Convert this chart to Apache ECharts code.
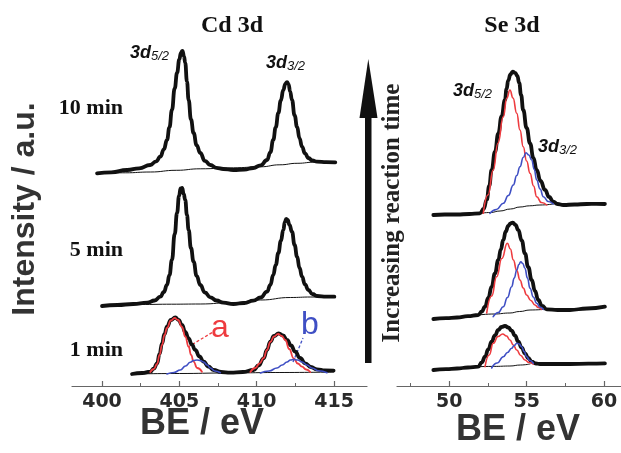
<!DOCTYPE html>
<html>
<head>
<meta charset="utf-8">
<script src="https://cdn.jsdelivr.net/npm/echarts@6/dist/echarts.min.js"></script>
<style>html,body{margin:0;padding:0;background:#fff}#c{width:621px;height:453px}</style>
</head>
<body>
<div id="c"></div>
<script>
// ---------- DATA (BE in eV, intensity in arbitrary units above each spectrum's own start) ----------
const cdTicks = [400, 405, 410, 415];
const cdMinor = [402.5, 407.5, 412.5];
const seTicks = [50, 55, 60];
const seMinor = [47.5, 52.5, 57.5];
const timeLabels = ['1 min', '5 min', '10 min'];
const cdOffsets = [12, 80, 212.7];   // vertical stacking offsets (1, 5, 10 min)
const seOffsets = [16, 67, 171];

// Cd 3d, 10 min
const cd10 = [[399.68,0],[400.6,1],[401.62,3.3],[402.4,5],[403.12,8.3],[403.5,12],[403.77,16.6],[404.0,24],[404.20,33.3],[404.36,46],[404.52,63.3],[404.70,85],[404.85,100.3],[405.0,114],[405.10,120.5],[405.20,122.5],[405.30,117],[405.38,110.3],[405.49,92],[405.60,73.3],[405.75,54],[405.92,40.3],[406.12,28],[406.35,20.3],[406.65,12.5],[407.00,8.3],[407.4,5.5],[407.84,4.3],[408.49,3.3],[409.2,3.8],[409.78,5.3],[410.25,8],[410.67,13.3],[410.88,21],[411.07,33.3],[411.23,46],[411.40,60.3],[411.56,73],[411.72,83.3],[411.85,89.5],[411.96,91.2],[412.06,89],[412.16,82],[412.28,73.3],[412.45,58],[412.61,46.3],[412.77,35],[412.93,26.6],[413.12,20],[413.34,15.3],[413.6,12.8],[413.90,11.6],[414.5,11.2],[415.08,11]];
const cd10Bg = [[399.68,0],[401.5,0.5],[403.12,1.3],[404.8,3],[406.35,4.5],[408.49,5.5],[410.24,6.5],[411.5,8.5],[412.61,10],[413.8,11.2],[415.08,11.5]];
// Cd 3d, 5 min
const cd5 = [[400.00,0],[401.0,1],[402.02,2],[402.93,3.3],[403.4,5.5],[403.77,9.3],[404.0,14],[404.20,21],[404.36,31],[404.52,46],[404.70,72],[404.85,93],[404.98,110],[405.08,117.5],[405.18,118],[405.28,112],[405.38,106],[405.49,91],[405.60,76],[405.75,58],[405.92,44.3],[406.12,30],[406.35,21],[406.65,13.5],[407.00,8.7],[407.4,5.5],[407.84,3.3],[408.49,2],[409.2,3],[409.78,5.3],[410.25,8.5],[410.67,14.3],[410.88,21],[411.07,31],[411.23,41],[411.40,53],[411.56,65],[411.72,76],[411.82,84],[411.91,87.2],[412.0,86],[412.12,81],[412.28,74.3],[412.45,61],[412.61,49.3],[412.77,38],[412.93,29.3],[413.12,21.5],[413.34,16],[413.6,12],[413.90,10],[414.5,9.3],[415.02,9.3]];
const cd5Bg = [[400.00,0],[402.48,1.5],[404.5,1.8],[406.35,2],[408.49,3.5],[410.24,6],[412.18,8.5],[413.5,9],[415.02,9]];
// Cd 3d, 1 min (envelope, fitted components a / b, background)
const cd1 = [[401.94,0],[402.6,1],[403.12,2.3],[403.35,5.5],[403.56,10.7],[403.72,20],[403.88,30.7],[404.04,40],[404.20,47.3],[404.45,54],[404.74,56.5],[404.95,54],[405.17,49],[405.38,42],[405.60,35.7],[405.80,29.5],[406.03,24],[406.30,17.5],[406.57,12.3],[406.88,7.5],[407.21,4],[407.7,2],[408.29,1.3],[409.1,2],[409.80,4],[410.12,8.5],[410.45,15.7],[410.66,24],[410.88,32.3],[411.12,38],[411.42,40.7],[411.70,38.5],[411.96,34],[412.22,28.5],[412.49,22.3],[412.80,16],[413.14,10.7],[413.50,7],[413.90,4.7],[414.4,3.5],[414.97,3.3]];
const cd1A1 = [[403.12,2],[403.35,5],[403.56,10],[403.72,19],[403.88,29],[404.04,39],[404.20,46],[404.45,53.5],[404.69,56],[404.92,54],[405.17,47],[405.38,37.5],[405.60,27.3],[405.76,19],[405.92,12.3],[406.15,6],[406.46,2.3]];
const cd1B1 = [[404.20,0],[404.65,1.5],[405.06,4],[405.40,8],[405.71,11.7],[405.92,13.5],[406.14,14],[406.35,13.5],[406.57,12],[406.80,9],[407.00,6],[407.3,3],[407.65,1.3]];
const cd1A2 = [[409.59,2],[409.91,6],[410.18,10.5],[410.45,16],[410.66,24],[410.88,32],[411.12,37.5],[411.38,40],[411.62,38],[411.85,34],[412.10,25],[412.39,15.7],[412.65,10.5],[412.93,7.3],[413.2,4.5],[413.46,2]];
const cd1B2 = [[410.24,1],[410.8,3],[411.31,6],[411.65,9],[411.96,12],[412.18,14],[412.39,14.7],[412.65,14],[412.93,12],[413.25,9],[413.57,6],[414.0,3.2],[414.54,1.3]];
const cd1Bg = [[401.94,0],[405.0,0.5],[408.0,1],[411.5,1.5],[414.97,2]];

// Se 3d, 10 min
const se10 = [[48.97,0],[49.7,0.5],[50.5,0.5],[51.3,1],[51.98,1.7],[52.22,6],[52.42,15],[52.58,29],[52.74,45],[52.95,63],[53.17,81.7],[53.38,98.5],[53.60,115],[53.70,126],[53.81,134.5],[53.95,140.5],[54.10,143.3],[54.26,142.2],[54.40,139],[54.52,132],[54.64,120],[54.78,105],[55.0,87],[55.22,71.7],[55.44,57],[55.65,45],[55.9,34],[56.19,25],[56.45,18],[56.72,13.3],[57.0,11],[57.37,10],[58.1,10.5],[58.88,11],[59.5,11.2],[60.06,11]];
const se10R = [[52.20,1.7],[52.50,20],[52.84,45],[53.15,72],[53.49,98.3],[53.72,117],[53.92,125],[54.12,117],[54.36,101.7],[54.57,85],[54.78,68.3],[55.0,54],[55.22,41.7],[55.45,29],[55.65,18.3],[55.95,12.5],[56.30,10]];
const se10B = [[52.63,1.7],[53.05,5.5],[53.49,11.7],[53.82,19.5],[54.14,30],[54.36,39.5],[54.57,48.3],[54.78,57.5],[54.96,62.3],[55.14,60],[55.33,55],[55.49,45.5],[55.65,35],[55.87,26],[56.08,18.3],[56.40,13.5],[56.72,11]];
const se10Bg = [[51.98,1.7],[52.65,2.5],[53.28,4],[53.95,6],[54.57,8],[55.2,9.2],[55.86,10],[56.72,11]];
// Se 3d, 5 min
const se5 = [[48.97,0],[49.8,0.8],[50.5,1.5],[51.2,2.8],[51.87,4],[52.10,7.5],[52.31,12.3],[52.52,21],[52.74,32.3],[52.95,45.5],[53.17,59],[53.33,69.5],[53.49,79],[53.65,87.5],[53.81,93],[53.95,95.7],[54.10,96.3],[54.28,94],[54.46,89],[54.68,78.5],[54.89,65.7],[55.10,52],[55.33,39],[55.54,28],[55.75,19],[56.0,13],[56.30,9.7],[57.0,9],[57.80,9],[58.9,10.5],[60.06,12.3]];
const se5R = [[52.42,6],[52.74,23],[53.06,42.3],[53.40,60.5],[53.75,75.7],[53.95,70],[54.14,59],[54.36,48.5],[54.57,39],[54.78,31],[55.00,24],[55.27,18.5],[55.54,14],[55.75,11.5],[55.97,9.7]];
const se5B = [[52.84,2.3],[53.17,6.5],[53.49,12.3],[53.76,21.5],[54.03,32.3],[54.20,41],[54.36,49],[54.50,54.5],[54.62,57.3],[54.75,55.5],[54.89,50.7],[55.05,41],[55.22,30.7],[55.43,22],[55.65,15.7],[55.86,12],[56.08,9.7]];
const se5Bg = [[51.87,4],[52.9,5],[53.92,6],[54.55,7.5],[55.22,9],[56.19,9.7]];
// Se 3d, 1 min
const se1 = [[48.97,0],[49.8,0.8],[50.5,1.5],[51.2,2.5],[51.87,3.3],[52.10,7.5],[52.31,13.3],[52.52,20.5],[52.74,28.3],[52.95,34.5],[53.17,40],[53.38,43],[53.60,44],[53.82,42.5],[54.03,39.3],[54.25,34.3],[54.46,28.3],[54.68,22.3],[54.89,16.7],[55.10,12],[55.33,8.3],[55.6,6.5],[55.86,6],[56.8,6],[57.80,6],[59.0,6.3],[60.06,6.7]];
const se1R = [[52.31,3.3],[52.58,15],[52.84,26.7],[53.15,33.5],[53.45,36],[53.70,34],[53.92,30],[54.14,25],[54.36,20],[54.62,14.5],[54.89,10],[55.15,7.5],[55.43,6]];
const se1B = [[52.74,2],[53.10,7],[53.49,13.3],[53.76,17.5],[54.03,21.7],[54.20,24.5],[54.36,26.7],[54.52,26],[54.68,23.3],[54.84,18.5],[55.00,13.3],[55.20,9.5],[55.43,6.7]];
const se1Bg = [[51.87,3.3],[52.9,3.6],[53.92,4],[54.6,5],[55.22,6]];

// ---------- CHART ----------
const RED = '#ee3b3f', BLUE = '#3f4fc4', BLK = '#111';
const shift = (arr, off) => arr.map(p => [p[0], p[1] + off]);
function line(data, off, xi, color, width) {
  return {
    type: 'line', xAxisIndex: xi, yAxisIndex: xi, data: shift(data, off),
    showSymbol: false, smooth: 0.5, smoothMonotone: 'x', silent: true,
    lineStyle: { color: color, width: width, cap: 'round', join: 'round' }, z: width > 2 ? 3 : 4
  };
}
const series = [
  line(cd10Bg, cdOffsets[2], 0, BLK, 1), line(cd10, cdOffsets[2], 0, BLK, 3.8),
  line(cd5Bg, cdOffsets[1], 0, BLK, 1), line(cd5, cdOffsets[1], 0, BLK, 3.8),
  line(cd1Bg, cdOffsets[0], 0, BLK, 1), line(cd1, cdOffsets[0], 0, BLK, 3.8),
  line(cd1A1, cdOffsets[0], 0, RED, 1.8), line(cd1A2, cdOffsets[0], 0, RED, 1.8),
  line(cd1B1, cdOffsets[0], 0, BLUE, 1.6), line(cd1B2, cdOffsets[0], 0, BLUE, 1.6),
  line(se10Bg, seOffsets[2], 1, BLK, 1), line(se10, seOffsets[2], 1, BLK, 3.8),
  line(se10R, seOffsets[2], 1, RED, 1.6), line(se10B, seOffsets[2], 1, BLUE, 1.6),
  line(se5Bg, seOffsets[1], 1, BLK, 1), line(se5, seOffsets[1], 1, BLK, 3.8),
  line(se5R, seOffsets[1], 1, RED, 1.6), line(se5B, seOffsets[1], 1, BLUE, 1.6),
  line(se1Bg, seOffsets[0], 1, BLK, 1), line(se1, seOffsets[0], 1, BLK, 3.8),
  line(se1R, seOffsets[0], 1, RED, 1.6), line(se1B, seOffsets[0], 1, BLUE, 1.6)
];

const AX = '#666';
function mainX(gi, min, max, ticks) {
  return {
    type: 'value', gridIndex: gi, min: min, max: max, position: 'bottom',
    axisLine: { lineStyle: { color: AX, width: 1.2 } },
    axisTick: { inside: true, length: 5, customValues: ticks, lineStyle: { color: AX, width: 1.2 } },
    axisLabel: { customValues: ticks, margin: 7, color: '#2a2a2a', fontSize: 19, fontWeight: 'bold', fontFamily: 'DejaVu Sans' },
    splitLine: { show: false }
  };
}
function minorX(gi, min, max, ticks) {
  return {
    type: 'value', gridIndex: gi, min: min, max: max, position: 'bottom',
    axisLine: { show: false },
    axisTick: { inside: true, length: 3, customValues: ticks, lineStyle: { color: AX, width: 1 } },
    axisLabel: { show: false }, splitLine: { show: false }
  };
}
const hiddenY = gi => ({ type: 'value', gridIndex: gi, min: 0, max: 346, show: false });

const chart = echarts.init(document.getElementById('c'), null, { renderer: 'canvas' });
chart.setOption({
  animation: false,
  backgroundColor: '#fff',
  grid: [
    { left: 72, top: 40, width: 295, height: 346 },
    { left: 397, top: 40, width: 224, height: 346 }
  ],
  xAxis: [
    mainX(0, 398.06, 417.13, cdTicks), mainX(1, 46.62, 61.1, seTicks),
    minorX(0, 398.06, 417.13, cdMinor), minorX(1, 46.62, 61.1, seMinor)
  ],
  yAxis: [hiddenY(0), hiddenY(1), hiddenY(0), hiddenY(1)],
  series: series.concat([
    { type: 'line', xAxisIndex: 2, yAxisIndex: 2, data: [], silent: true },
    { type: 'line', xAxisIndex: 3, yAxisIndex: 3, data: [], silent: true }
  ]),
  graphic: [
    // panel titles
    { type: 'text', x: 232, y: 26, style: { text: 'Cd 3d', fontSize: 24, fontWeight: 'bold', fontFamily: 'Liberation Serif', fill: '#111', align: 'center', verticalAlign: 'middle' } },
    { type: 'text', x: 512, y: 26, style: { text: 'Se 3d', fontSize: 24, fontWeight: 'bold', fontFamily: 'Liberation Serif', fill: '#111', align: 'center', verticalAlign: 'middle' } },
    // time labels
    { type: 'text', x: 123, y: 108, style: { text: timeLabels[2], fontSize: 22, fontWeight: 'bold', fontFamily: 'Liberation Serif', fill: '#111', align: 'right', verticalAlign: 'middle' } },
    { type: 'text', x: 123, y: 250, style: { text: timeLabels[1], fontSize: 22, fontWeight: 'bold', fontFamily: 'Liberation Serif', fill: '#111', align: 'right', verticalAlign: 'middle' } },
    { type: 'text', x: 123, y: 350, style: { text: timeLabels[0], fontSize: 22, fontWeight: 'bold', fontFamily: 'Liberation Serif', fill: '#111', align: 'right', verticalAlign: 'middle' } },
    // y-axis title
    { type: 'text', x: 25, y: 209, rotation: Math.PI / 2, style: { text: 'Intensity / a.u.', fontSize: 32, fontWeight: 'bold', fontFamily: 'Liberation Sans', fill: '#333', align: 'center', verticalAlign: 'middle' } },
    // x-axis titles
    { type: 'text', x: 202, y: 424, style: { text: 'BE / eV', fontSize: 36, fontWeight: 'bold', fontFamily: 'Liberation Sans', fill: '#333', align: 'center', verticalAlign: 'middle' } },
    { type: 'text', x: 518, y: 430, style: { text: 'BE / eV', fontSize: 36, fontWeight: 'bold', fontFamily: 'Liberation Sans', fill: '#333', align: 'center', verticalAlign: 'middle' } },
    // arrow
    { type: 'rect', shape: { x: 365, y: 110, width: 6.5, height: 253 }, style: { fill: '#111' } },
    { type: 'polygon', shape: { points: [[359.5, 118], [377.5, 118], [368.3, 59]] }, style: { fill: '#111' } },
    { type: 'text', x: 393, y: 213, rotation: Math.PI / 2, style: { text: 'Increasing reaction time', fontSize: 25, fontWeight: 'bold', fontFamily: 'Liberation Serif', fill: '#222', align: 'center', verticalAlign: 'middle' } },
    // peak labels
    { type: 'text', x: 130, y: 53, style: { text: '{m|3d}{s|5/2}', verticalAlign: 'middle', rich: { m: { fontSize: 18, fontWeight: 'bold', fontStyle: 'italic', fontFamily: 'Liberation Sans', fill: '#111' }, s: { fontSize: 13, fontStyle: 'italic', fontFamily: 'Liberation Sans', fill: '#111', padding: [7, 0, 0, 0] } } } },
    { type: 'text', x: 266, y: 63, style: { text: '{m|3d}{s|3/2}', verticalAlign: 'middle', rich: { m: { fontSize: 18, fontWeight: 'bold', fontStyle: 'italic', fontFamily: 'Liberation Sans', fill: '#111' }, s: { fontSize: 13, fontStyle: 'italic', fontFamily: 'Liberation Sans', fill: '#111', padding: [7, 0, 0, 0] } } } },
    { type: 'text', x: 453, y: 91, style: { text: '{m|3d}{s|5/2}', verticalAlign: 'middle', rich: { m: { fontSize: 18, fontWeight: 'bold', fontStyle: 'italic', fontFamily: 'Liberation Sans', fill: '#111' }, s: { fontSize: 13, fontStyle: 'italic', fontFamily: 'Liberation Sans', fill: '#111', padding: [7, 0, 0, 0] } } } },
    { type: 'text', x: 538, y: 147, style: { text: '{m|3d}{s|3/2}', verticalAlign: 'middle', rich: { m: { fontSize: 18, fontWeight: 'bold', fontStyle: 'italic', fontFamily: 'Liberation Sans', fill: '#111' }, s: { fontSize: 13, fontStyle: 'italic', fontFamily: 'Liberation Sans', fill: '#111', padding: [7, 0, 0, 0] } } } },
    // component annotations a / b
    { type: 'line', shape: { x1: 188, y1: 347, x2: 213, y2: 332 }, style: { stroke: RED, lineWidth: 1.3, lineDash: [3, 2] } },
    { type: 'text', x: 220, y: 328, style: { text: 'a', fontSize: 32, fontFamily: 'Liberation Sans', fill: RED, align: 'center', verticalAlign: 'middle' } },
    { type: 'line', shape: { x1: 293, y1: 362, x2: 303, y2: 338 }, style: { stroke: BLUE, lineWidth: 1.3, lineDash: [3, 2] } },
    { type: 'text', x: 310, y: 325, style: { text: 'b', fontSize: 32, fontFamily: 'Liberation Sans', fill: BLUE, align: 'center', verticalAlign: 'middle' } }
  ]
});
</script>
</body>
</html>
